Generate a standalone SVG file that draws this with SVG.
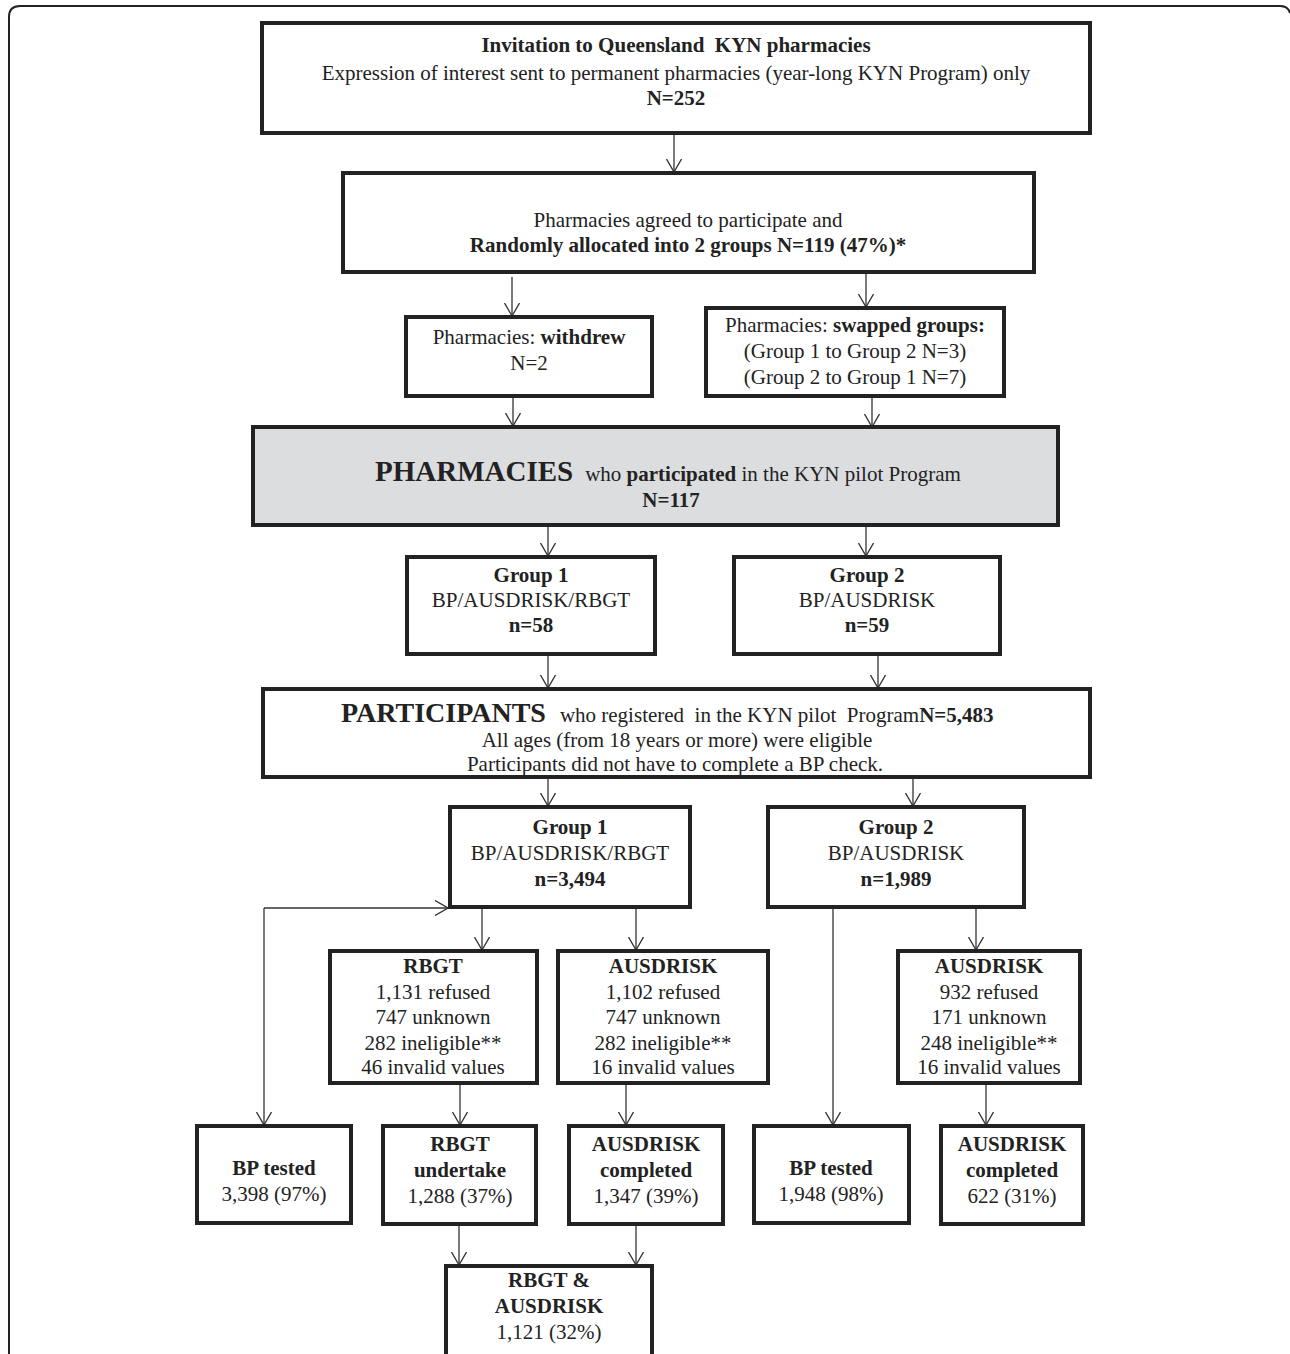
<svg xmlns="http://www.w3.org/2000/svg" width="1290" height="1354" viewBox="0 0 1290 1354">
<style>
  text { font-family: "Liberation Serif", "Times New Roman", serif; font-size: 21px; fill: #222; text-anchor: middle; }
  .b { font-weight: bold; }
  .big { font-weight: bold; font-size: 29px; }
  .box { fill: #fff; stroke: #222; stroke-width: 4; }
  .grey { fill: #dcdddf; stroke: #222; stroke-width: 4; }
  .c { fill: none; stroke: #333; stroke-width: 1.3; marker-end: url(#arr); }
  .frame { fill: none; stroke: #222; stroke-width: 2; }
</style>
<defs>
  <marker id="arr" viewBox="0 0 14 16" refX="13" refY="8" markerWidth="14" markerHeight="16" markerUnits="userSpaceOnUse" orient="auto">
    <path d="M0,0.5 L13,8 L0,15.5" fill="none" stroke="#333" stroke-width="1.3"/>
  </marker>
</defs>
<rect width="1290" height="1354" fill="#fff"/>
<path class="frame" d="M9,1354 V17 Q9,6 20,6 H1280 Q1288,6 1290,13"/>

<g id="connectors">
  <path class="c" d="M674,134 V172"/>
  <path class="c" d="M512,277 V316"/>
  <path class="c" d="M866,273 V307"/>
  <path class="c" d="M513,397 V426"/>
  <path class="c" d="M872,397 V427"/>
  <path class="c" d="M548,527 V556"/>
  <path class="c" d="M866,527 V556"/>
  <path class="c" d="M548,656 V688"/>
  <path class="c" d="M878,656 V688"/>
  <path class="c" d="M548,779 V806"/>
  <path class="c" d="M913,779 V806"/>
  <path class="c" d="M482,909 V950"/>
  <path class="c" d="M636,909 V950"/>
  <path class="c" d="M264,908 H448"/>
  <path class="c" d="M264,908 V1125"/>
  <path class="c" d="M833,909 V1125"/>
  <path class="c" d="M976,909 V950"/>
  <path class="c" d="M460,1085 V1125"/>
  <path class="c" d="M626,1085 V1125"/>
  <path class="c" d="M986,1085 V1125"/>
  <path class="c" d="M459,1225 V1265"/>
  <path class="c" d="M636,1225 V1265"/>
</g>

<g id="invitation">
  <rect class="box" x="262" y="23" width="828" height="110"/>
  <text x="676" y="52" class="b" xml:space="preserve">Invitation to Queensland  KYN pharmacies</text>
  <text x="676" y="80">Expression of interest sent to permanent pharmacies (year-long KYN Program) only</text>
  <text x="676" y="105" class="b">N=252</text>
</g>

<g id="agreed">
  <rect class="box" x="343" y="173" width="691" height="99"/>
  <text x="688" y="227">Pharmacies agreed to participate and</text>
  <text x="688" y="252" class="b">Randomly allocated into 2 groups N=119 (47%)*</text>
</g>

<g id="withdrew">
  <rect class="box" x="406" y="317" width="246" height="79"/>
  <text x="529" y="344">Pharmacies: <tspan class="b">withdrew</tspan></text>
  <text x="529" y="370">N=2</text>
</g>

<g id="swapped">
  <rect class="box" x="706" y="308" width="298" height="88"/>
  <text x="855" y="332">Pharmacies: <tspan class="b">swapped groups:</tspan></text>
  <text x="855" y="358">(Group 1 to Group 2 N=3)</text>
  <text x="855" y="384">(Group 2 to Group 1 N=7)</text>
</g>

<g id="pharmacies">
  <rect class="grey" x="253" y="427" width="805" height="98"/>
  <text x="375" y="481" style="text-anchor:start"><tspan class="big">PHARMACIES</tspan><tspan dx="12">who </tspan><tspan class="b">participated</tspan> in the KYN pilot Program</text>
  <text x="671" y="507" class="b">N=117</text>
</g>

<g id="pgroup1">
  <rect class="box" x="407" y="557" width="248" height="97"/>
  <text x="531" y="582" class="b">Group 1</text>
  <text x="531" y="607">BP/AUSDRISK/RBGT</text>
  <text x="531" y="632" class="b">n=58</text>
</g>

<g id="pgroup2">
  <rect class="box" x="734" y="557" width="266" height="97"/>
  <text x="867" y="582" class="b">Group 2</text>
  <text x="867" y="607">BP/AUSDRISK</text>
  <text x="867" y="632" class="b">n=59</text>
</g>

<g id="participants">
  <rect class="box" x="263" y="689" width="827" height="88"/>
  <text x="341" y="722" style="text-anchor:start" xml:space="preserve"><tspan class="big" style="font-size:28px">PARTICIPANTS</tspan><tspan dx="14">who registered  in the KYN pilot  Program</tspan><tspan class="b">N=5,483</tspan></text>
  <text x="677" y="747">All ages (from 18 years or more) were eligible</text>
  <text x="675" y="771">Participants did not have to complete a BP check.</text>
</g>

<g id="group1">
  <rect class="box" x="450" y="807" width="240" height="100"/>
  <text x="570" y="834" class="b">Group 1</text>
  <text x="570" y="860">BP/AUSDRISK/RBGT</text>
  <text x="570" y="886" class="b">n=3,494</text>
</g>

<g id="group2">
  <rect class="box" x="768" y="807" width="256" height="100"/>
  <text x="896" y="834" class="b">Group 2</text>
  <text x="896" y="860">BP/AUSDRISK</text>
  <text x="896" y="886" class="b">n=1,989</text>
</g>

<g id="rbgt">
  <rect class="box" x="330" y="951" width="207" height="132"/>
  <text x="433" y="973" class="b">RBGT</text>
  <text x="433" y="999">1,131 refused</text>
  <text x="433" y="1024">747 unknown</text>
  <text x="433" y="1050">282 ineligible**</text>
  <text x="433" y="1074">46 invalid values</text>
</g>

<g id="ausdrisk1">
  <rect class="box" x="558" y="951" width="210" height="132"/>
  <text x="663" y="973" class="b">AUSDRISK</text>
  <text x="663" y="999">1,102 refused</text>
  <text x="663" y="1024">747 unknown</text>
  <text x="663" y="1050">282 ineligible**</text>
  <text x="663" y="1074">16 invalid values</text>
</g>

<g id="ausdrisk2">
  <rect class="box" x="898" y="951" width="182" height="132"/>
  <text x="989" y="973" class="b">AUSDRISK</text>
  <text x="989" y="999">932 refused</text>
  <text x="989" y="1024">171 unknown</text>
  <text x="989" y="1050">248 ineligible**</text>
  <text x="989" y="1074">16 invalid values</text>
</g>

<g id="bptested1">
  <rect class="box" x="197" y="1126" width="154" height="97"/>
  <text x="274" y="1175" class="b">BP tested</text>
  <text x="274" y="1201">3,398 (97%)</text>
</g>

<g id="rbgtundertake">
  <rect class="box" x="383" y="1126" width="153" height="98"/>
  <text x="460" y="1151" class="b">RBGT</text>
  <text x="460" y="1177" class="b">undertake</text>
  <text x="460" y="1203">1,288 (37%)</text>
</g>

<g id="ausdriskcompleted1">
  <rect class="box" x="569" y="1126" width="154" height="98"/>
  <text x="646" y="1151" class="b">AUSDRISK</text>
  <text x="646" y="1177" class="b">completed</text>
  <text x="646" y="1203">1,347 (39%)</text>
</g>

<g id="bptested2">
  <rect class="box" x="754" y="1126" width="155" height="97"/>
  <text x="831" y="1175" class="b">BP tested</text>
  <text x="831" y="1201">1,948 (98%)</text>
</g>

<g id="ausdriskcompleted2">
  <rect class="box" x="941" y="1126" width="142" height="98"/>
  <text x="1012" y="1151" class="b">AUSDRISK</text>
  <text x="1012" y="1177" class="b">completed</text>
  <text x="1012" y="1203">622 (31%)</text>
</g>

<g id="both">
  <rect class="box" x="446" y="1266" width="206" height="110"/>
  <text x="549" y="1287" class="b">RBGT &amp;</text>
  <text x="549" y="1313" class="b">AUSDRISK</text>
  <text x="549" y="1339">1,121 (32%)</text>
</g>
</svg>
